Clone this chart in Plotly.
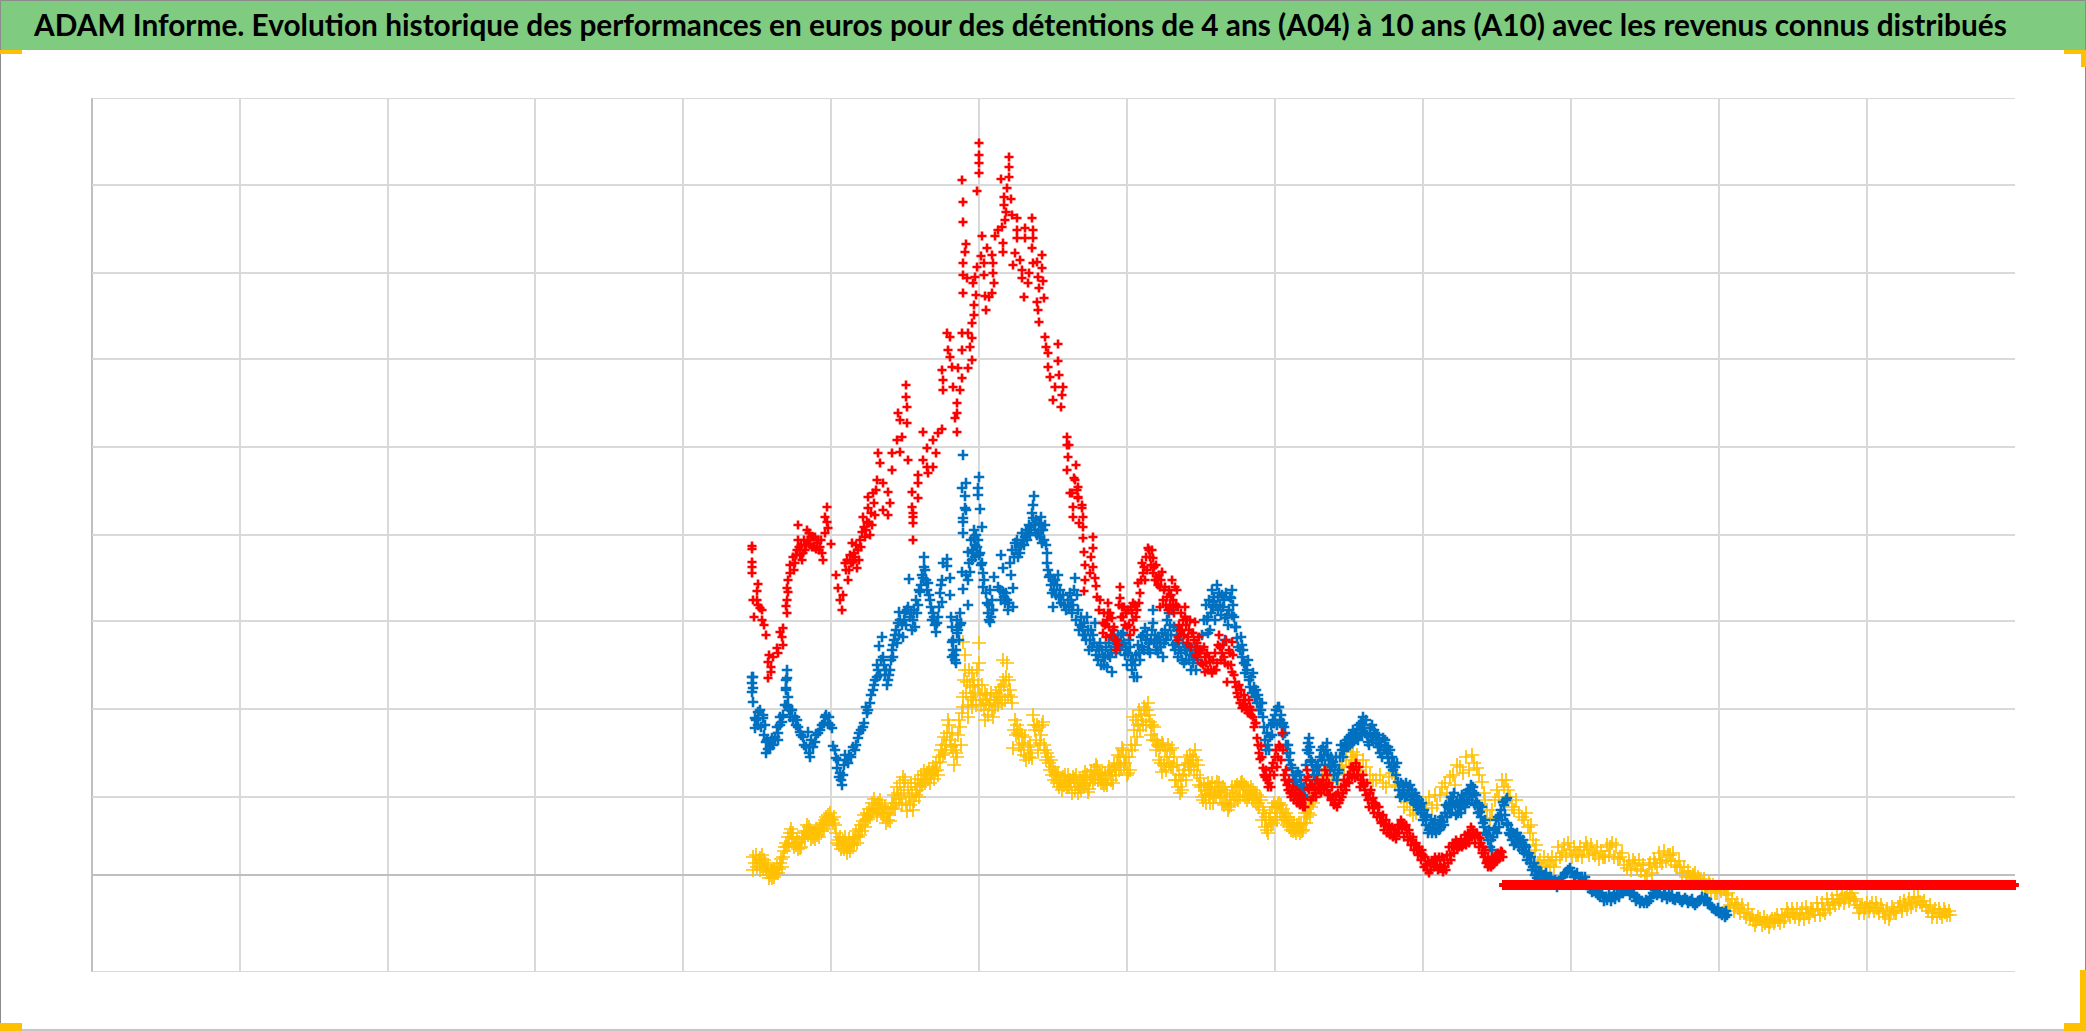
import plotly.graph_objects as go

title_text = "ADAM Informe. Evolution historique des performances en euros pour des détentions de 4 ans (A04) à 10 ans (A10) avec les revenus connus distribués"

x_grid = [92, 240, 388, 535, 683, 831, 979, 1127, 1275, 1423, 1571, 1719, 1867]
y_grid = [-97, 78, 166, 254, 340, 428, 516, 602, 690, 777]
x_range = [92, 2015]
y_range = [-97, 777]

red_peak = [(752,329),(752,326),(752,313),(752,308),(752,302),(758,291),(757,284),(753,275),(757,275),(758,270),(760,267),(762,265),(754,258),(762,255),(764,250),(766,240),
(783,247),(780,243),(782,238),(783,230),(777,227),(778,222),(773,218),(769,220),(768,213),(771,208),(771,203),(768,197),
(787,262),(786,269),(787,275),(788,283),(787,287),(788,295),(790,302),(790,310),(793,318),(797,325),(798,335),(798,350),(807,345),(805,325),(802,315),(812,328),(817,332),(813,338),(820,328),(823,315),(825,342),(828,347),(827,353),(831,331),
(842,265),(840,275),(843,280),(836,300),(838,287),(845,312),(848,295),(853,313),(857,307),(852,332),(858,325),(860,335),(862,343),(867,353),(869,352),
(827,368),(825,358),(863,358),(868,378),(868,367),(873,382),(877,395),(878,422),(880,412),(883,392),(888,383),(892,405),(892,422),(900,423),(890,372),(883,365),(888,360),
(897,435),(898,462),(900,455),(906,490),(906,478),(907,468),(907,452),(902,438),(908,415),
(912,368),(912,383),(918,392),(918,377),(918,400),(923,415),(927,408),(928,402),(923,443),(927,427),(933,408),(936,422),(933,435),(942,446),(938,442),(913,358),(913,362),(913,352),(913,335),
(957,443),(955,457),(957,462),(957,472),(953,488),(960,485),(943,485),(942,505),(943,495),(962,497),(958,507),(952,508),(950,518),(948,525),(947,542),(950,538),(962,525),(962,542),(968,542),(972,537),(970,528),(972,515),(968,507),(972,552),(974,560),(974,570),(976,580),(963,582),(973,592),(975,598),(967,597),(963,600),(977,608),(963,612),(965,623),(966,631),(963,653),(963,673),(962,695),(977,684),(979,702),(979,712),(979,720),(979,732),(982,639),(981,619),(986,565),(985,579),(984,600),(984,612),(987,627),(992,620),(993,612),(993,602),(994,592),(992,582),(989,578),
(995,639),(998,645),(1002,648),(1005,655),(1003,632),(1003,623),(1004,670),(1004,678),(1001,696),(1007,687),(1009,698),(1009,708),(1009,718),(1011,676),(1006,663),(1012,660),(1017,657),(1017,645),(1017,637),(1015,622),(1013,610),(1020,615),(1022,605),(1022,597),(1025,647),(1025,637),(1024,578),(1028,592),(1029,602),(1032,657),(1033,645),(1033,637),(1032,627),(1033,612),(1037,613),(1042,620),(1042,607),(1038,598),(1043,594),(1039,587),(1037,573),(1044,577),(1038,565),(1039,553),(1045,538),(1046,528),(1048,522),(1058,531),(1058,514),(1048,508),(1050,498),(1059,500),(1055,488),(1063,488),(1053,475),(1062,480),(1061,468),(1067,438),(1067,430),(1069,430),(1068,418),(1067,405),(1076,410),(1074,397),(1072,382),(1078,388),(1078,377),(1082,367),(1073,368),(1073,358),(1083,358),
(808,335),(809,342),(810,330),(811,338),(814,328),(815,338),(816,326),(818,335),(819,325),(821,335),(822,322),(794,305),(795,312),(796,320),(799,328),(800,320),(801,330),(803,322),(804,335),(806,330),(846,305),(847,315),(849,305),(850,320),(851,312),(854,322),(855,318),(856,330),(859,315),(861,328),(864,348),(865,338),(866,345),(870,340),(871,362),(872,350),(874,372),(875,360),(876,385)]

red_mid = [(1075,395),(1077,385),(1070,382),(1078,378),(1082,370),(1079,352),(1083,348),(1083,337),(1093,338),(1093,327),(1084,323),(1091,318),(1085,310),(1093,308),(1090,302),(1085,295),(1095,297),(1096,289),(1084,284),(1120,288),(1097,278),(1100,275),(1099,265),(1108,272),(1108,262),(1103,252),(1112,257),(1113,245),(1103,242),(1115,235),(1116,225),(1120,277),(1122,268),(1123,258),(1127,248),(1130,240),(1128,265),(1133,272),(1137,265),(1133,255),(1140,282),(1138,292),(1143,302),(1142,312),(1148,327),(1150,318),(1153,317),(1147,305),(1153,302),(1157,295),(1162,303),(1160,288),(1164,285),(1160,268),(1167,278),(1172,295),(1175,288),(1173,275),(1178,268),(1168,265),(1185,268),(1185,258),(1190,255),(1180,245),(1178,235),(1192,242),(1187,232),(1197,232),(1197,218),
(1177,285),(1173,270),(1187,255),(1195,253),(1193,242),(1178,238),(1197,228),(1205,218),(1205,203),(1210,213),(1212,202),(1217,212),(1218,230),(1222,222),(1232,233),(1230,222),(1225,212),(1232,203),(1227,193),(1235,193),(1237,182),(1245,175),(1242,167),(1250,168),(1248,162),(1255,152),
(1104,262),(1105,250),(1106,238),(1107,255),(1109,248),(1110,262),(1111,240),(1114,248),(1117,235),(1118,230),(1119,270),(1121,258),(1124,268),(1125,250),(1126,262),(1129,250),(1131,268),(1132,262),(1134,245),(1135,270),(1136,258),(1139,272),(1141,295),(1144,308),(1145,295),(1146,318),(1149,325),(1151,310),(1152,325),(1154,308),(1155,295),(1156,310),(1158,290),(1159,300),(1161,295),(1163,275),(1165,288),(1166,270),(1169,285),(1170,270),(1171,280),(1174,262),(1176,270),(1179,250),(1181,262),(1182,245),(1183,255),(1184,240),(1186,250),(1188,238),(1189,245),(1191,228),(1194,235),(1196,220),(1198,225),(1199,238),(1200,222),(1201,212),(1202,225),(1203,210),(1204,228),(1206,212),(1207,222),(1208,205),(1209,218),(1211,205),(1213,215),(1214,205),(1215,222),(1216,205),(1219,240),(1220,228),(1221,215),(1223,230),(1224,218),(1226,235),(1228,210),(1229,225),(1231,210),(1233,220),(1234,200),(1236,188),(1238,178),(1239,190),(1240,172),(1241,185),(1243,170),(1244,180),(1246,165),(1249,175),(1251,160),(1253,158),(1254,148)]

red_low = [(1247,168),(1252,165),(1256,152),(1257,137),(1261,129),(1260,116),(1263,107),(1265,98),(1269,92),(1272,107),(1275,118),(1280,128),(1282,142),(1283,125),(1284,100),(1287,90),(1290,82),(1298,78),(1305,68),(1308,98),(1308,87),(1313,78),(1318,87),(1327,100),(1327,85),(1333,78),(1337,68),(1343,82),(1347,93),(1353,107),(1355,97),(1362,92),(1365,85),(1368,75),(1373,77),(1373,67),(1378,62),(1382,53),(1388,48),(1397,42),(1403,52),(1407,42),(1412,35),(1417,25),(1423,20),(1429,2),(1430,12),(1437,15),(1443,3),(1442,18),(1448,12),(1452,28),(1460,32),(1467,35),(1473,45),(1478,38),(1462,28),(1480,37),(1483,28),(1488,17),(1488,8),(1495,13),(1500,20),(1502,23),
(1267,95),(1292,85),(1295,80),(1300,75),(1302,72),(1310,90),(1315,82),(1322,90),(1330,80),(1335,72),(1340,75),(1345,90),(1350,100),(1358,100),(1360,88),(1370,82),(1376,70),(1380,58),(1385,50),(1391,45),(1394,40),(1400,50),(1405,48),(1410,38),(1415,30),(1420,22),(1426,10),(1433,13),(1440,10),(1445,8),(1450,20),(1455,30),(1464,33),(1470,40),(1476,42),(1485,22),(1490,10),(1492,12),(1497,17),
(1258,130),(1259,122),(1262,118),(1264,100),(1266,105),(1268,88),(1270,100),(1271,88),(1273,112),(1274,100),(1276,125),(1277,108),(1278,118),(1279,130),(1281,115),(1285,95),(1286,105),(1288,85),(1289,95),(1291,78),(1293,88),(1294,75),(1296,85),(1297,72),(1299,82),(1300,70),(1301,80),(1303,68),(1304,76),(1306,95),(1307,105),(1309,85),(1311,75),(1312,90),(1314,88),(1316,78),(1317,95),(1319,85),(1320,92),(1321,82),(1323,95),(1324,85),(1325,105),(1326,90),(1328,80),(1329,92),(1331,75),(1332,88),(1334,70),(1336,80),(1338,82),(1339,72),(1341,88),(1342,78),(1344,95),(1346,85),(1348,100),(1349,92),(1351,108),(1352,98),(1354,105),(1356,112),(1357,100),(1359,108),(1361,95),(1363,100),(1364,90),(1366,80),(1367,92),(1369,68),(1371,85),(1372,72),(1374,62),(1375,72),(1377,58),(1379,68),(1381,52),(1383,60),(1384,45),(1386,55),(1387,42),(1389,50),(1390,40),(1392,48),(1393,38),(1395,46),(1396,36),(1398,50),(1399,42),(1401,55),(1402,46),(1404,38),(1406,50),(1408,35),(1409,45),(1411,30),(1413,38),(1414,25),(1416,32),(1418,20),(1419,28),(1421,15),(1422,25),(1424,8),(1425,18),(1427,5),(1428,14),(1431,5),(1432,14),(1434,8),(1435,18),(1436,10),(1438,5),(1439,18),(1441,8),(1444,15),(1446,5),(1447,20),(1449,28),(1451,15),(1453,32),(1454,22),(1456,35),(1457,26),(1458,32),(1459,28),(1461,36),(1463,30),(1465,40),(1466,30),(1468,42),(1469,32),(1471,48),(1472,38),(1474,40),(1475,32),(1477,42),(1479,28),(1481,32),(1482,22),(1484,18),(1485,25),(1486,12),(1487,14),(1489,10),(1490,15),(1491,8),(1492,18),(1493,10),(1494,15),(1496,20),(1497,14),(1498,22),(1499,16),(1501,24),(1503,18)]

blue_early = [(752,198),(752,192),(752,183),(753,173),(787,205),(787,197),(786,187),(788,178),(787,170),(780,158),(792,165),(795,158),(758,163),(763,160),
(753,198),(753,187),(755,157),(755,147),(760,165),(763,157),(765,150),(767,135),(766,122),(770,127),(772,137),(778,142),(778,135),(782,153),(786,195),(786,185),(788,168),(790,158),(797,155),(800,143),(803,138),(808,143),(810,118),(810,128),(815,133),(820,145),(825,158),(828,152),(832,147),(833,129),(836,117),(837,107),(842,90),(840,102),(845,120),(848,112),(855,125),(858,137),(863,148),(867,162),(870,172),(873,185),(877,198),(877,210),(879,229),(882,238),(883,218),(888,195),(890,205),(893,230),(893,218),(895,240),(898,252),(903,238),(899,263),(908,268),(910,258),(915,248),(917,262),(920,283),(923,297),(924,318),(924,308),(909,296),(928,292),(930,275),(933,262),(936,243),(937,252),(942,273),(942,295),(943,312),(947,316),(947,309),(950,297),(950,280),(963,286),(962,303),(968,270),(951,258),(952,248),(952,233),(953,225),(956,212),(957,242),(960,262),(961,252),
(756,155),(758,150),(761,148),(764,140),(766,133),(768,126),(771,132),(773,130),(775,138),(777,148),(780,150),(783,160),(785,170),(789,165),(791,165),(793,155),(796,150),(798,148),(801,140),(804,130),(806,128),(809,122),(811,135),(813,128),(816,140),(818,142),(822,150),(824,152),(826,160),(829,158),(830,150),(835,125),(838,115),(839,98),(841,95),(843,100),(844,110),(846,115),(849,120),(851,118),(853,128),(856,130),(859,142),(861,145),(864,152),(866,168),(868,165),(871,180),(874,190),(875,195),
(878,205),(880,200),(881,215),(884,210),(885,200),(886,205),(887,190),(889,200),(891,215),(892,225),(894,235),(896,245),(897,232),(899,240),(900,255),(902,250),(904,255),(905,262),(906,250),(907,265),(911,262),(912,245),(913,255),(914,265),(916,275),(918,270),(919,285),(921,290),(922,300),(925,305),(926,295),(927,285),(929,280),(931,268),(932,255),(934,258),(935,250),(938,258),(939,268),(940,282),(941,290),
(952,218),(953,235),(954,220),(955,215),(956,225),(957,255),(958,245),(959,235),(960,250)]

blue_mid = [(963,342),(963,353),(966,365),(980,366),(982,348),(968,323),(974,337),(973,322),(977,328),(970,303),(968,295),(982,312),(983,302),(983,288),(990,285),(987,272),(992,265),(990,253),(994,298),(1001,320),(1003,307),(998,288),(1003,283),(1007,275),(1013,268),(1013,287),(1010,312),(1015,332),(1018,318),(1023,335),(1028,342),(1033,357),(1033,370),(1039,352),(1040,338),(1045,350),(1047,322),(1048,305),(1053,295),(1058,300),(1060,285),(1053,268),(1068,275),(1075,297),(1077,280),(1080,250),(1087,258),(1090,235),(1095,252),(1100,232),(1103,218),(1112,203),(1107,208),(1115,228),(1123,242),(1130,228),(1137,198),(1140,215),(1145,247),(1153,265),(1153,252),(1160,232),(1162,242),(1172,265),(1177,245),(1187,225),(1193,212),(1208,242),(1213,268),(1218,278),
(963,420),(966,392),(962,387),(965,379),(979,398),(978,387),(978,380),(965,367),(963,357),(1034,379),(1041,358),
(971,335),(972,325),(975,330),(976,340),(978,335),(979,320),(974,345),(975,318),(972,315),(969,312),(966,300),(980,322),(981,310),(984,295),(986,282),(988,262),(989,270),(991,258),(992,275),(993,265),(989,255),
(1000,285),(1001,275),(1004,278),(1005,272),(1006,282),(1008,265),(1009,272),(1011,300),(1012,325),(1014,318),(1016,325),(1017,335),(1019,328),(1020,322),(1021,330),(1022,342),(1024,330),(1025,338),(1026,345),(1027,335),(1029,350),(1030,340),(1031,348),(1032,362),(1034,350),(1035,345),(1036,355),(1037,340),(1038,342),(1041,345),(1042,332),(1043,345),(1044,335),(1046,330),(1047,312),(1049,298),(1050,300),(1051,290),(1052,282),(1054,285),(1055,295),(1056,280),(1057,290),(1059,278),(1061,272),(1063,280),(1064,270),(1066,265),(1069,268),(1070,282),(1071,275),(1072,262),(1073,270),(1074,285),(1076,255),(1078,265),(1079,245),(1081,258),(1082,248),(1083,240),(1084,252),(1085,240),(1086,235),(1088,245),(1089,225),(1091,245),(1092,228),(1093,240),(1094,232),(1096,220),(1097,228),(1098,215),(1099,225),(1101,210),(1102,225),(1104,210),(1105,218),(1106,228),(1108,220),(1109,232),(1110,218),(1111,225),(1113,235),(1114,240),(1116,222),(1117,232),(1118,240),(1119,232),(1120,225),(1121,240),(1122,230),(1124,232),(1125,220),(1126,228),(1127,210),(1128,222),(1129,235),(1131,215),(1132,205),(1133,215),(1134,198),(1135,210),(1136,220),(1138,230),(1139,222),(1141,238),(1142,228),(1143,240),(1144,225),(1146,235),(1147,240),(1148,225),(1149,232),(1150,222),(1151,235),(1152,245),(1154,232),(1155,240),(1156,225),(1157,232),(1158,222),(1159,238),(1161,228),(1163,218),(1164,232),(1165,245),(1166,235),(1167,255),(1168,240),(1169,262),(1170,250),(1171,240),(1173,230),(1174,248),(1175,225),(1176,232),(1178,218),(1179,228),(1180,240),(1181,222),(1182,215),(1183,232),(1184,212),(1185,225),(1186,215),(1188,230),(1189,215),(1190,225),(1191,205),(1192,220),(1194,218),(1195,228),(1196,205),(1198,215),(1200,225),(1202,240),(1204,255),(1206,270),(1207,255),(1209,275),(1211,262),(1212,285),(1214,278),(1215,255),(1216,270),(1217,290),(1219,282),(1220,270),(1221,260),(1223,268),(1224,275),(1226,282),(1227,260),(1228,250),(1229,265),(1230,278),(1233,270),(1234,258),(1236,248),(1238,228),(1240,225),(1241,238),(1243,225),(1244,212),(1246,210),(1247,205),(1249,195),(1251,198),(1252,182),(1254,188),(1255,178),(1256,185),(1257,172),(1259,165),
(1232,285),(1231,277),(1222,280),(1213,273),(1218,265),(1208,258),(1210,245),(1225,257),(1232,260),(1235,248),(1225,235),(1237,237),(1242,230),(1242,218),(1248,215),(1245,202),(1253,202),(1250,188),(1258,180),(1262,172),(1263,158),(1278,168),(1273,155),(1283,152)]

blue_low = [(1260,172),(1267,142),(1268,130),(1273,152),(1279,168),(1280,155),(1285,142),(1290,122),(1292,107),(1298,103),(1295,93),(1302,87),(1305,78),(1309,137),(1309,122),(1312,113),(1317,100),(1320,118),(1327,132),(1328,120),(1333,113),(1338,102),(1342,125),(1347,135),(1355,142),(1363,158),(1363,147),(1370,147),(1368,133),(1375,142),(1380,122),(1383,137),(1388,128),(1388,117),(1395,108),(1398,93),(1400,78),(1408,88),(1413,78),(1420,70),(1425,58),(1428,42),(1430,48),(1437,47),(1443,53),(1448,68),(1453,78),(1458,62),(1463,73),(1470,82),(1473,88),(1478,68),
(1463,70),(1477,72),(1480,63),(1483,52),(1487,40),(1490,28),(1495,47),(1500,60),(1503,73),(1507,77),(1507,52),(1510,40),(1518,35),(1525,30),(1528,20),(1533,8),(1538,0),(1547,-3),(1557,-12),(1563,-2),(1570,7),(1575,0),(1585,-2),(1592,-17),(1600,-20),(1607,-25),(1617,-20),(1628,-15),(1637,-22),(1647,-28),(1655,-15),(1665,-20),(1677,-22),(1687,-25),(1697,-28),(1650,-23),(1658,-18),(1670,-22),(1683,-25),(1693,-28),(1705,-23),(1712,-33),(1722,-40),(1727,-40),
(1542,-2),(1552,-6),(1560,-8),(1567,3),(1580,-3),(1588,-10),(1596,-18),(1603,-22),(1612,-22),(1622,-18),(1632,-18),(1642,-26),(1651,-22),(1660,-18),(1673,-24),(1680,-25),(1690,-26),(1700,-25),(1708,-28),(1716,-36),(1719,-38),(1725,-42),(1604,-26),(1640,-28),(1615,-24),
(1261,165),(1264,148),(1265,135),(1266,125),(1269,125),(1270,138),(1271,150),(1272,140),(1274,152),(1275,160),(1276,165),(1277,150),(1281,160),(1282,150),(1283,140),(1284,148),(1286,130),(1287,122),(1288,130),(1289,115),(1291,110),(1293,100),(1294,95),(1296,100),(1297,90),(1299,85),(1300,100),(1301,95),(1303,80),(1304,88),(1306,110),(1307,125),(1308,132),(1310,128),(1311,115),(1313,105),(1314,100),(1315,95),(1316,108),(1318,110),(1319,105),(1321,125),(1322,115),(1323,128),(1324,120),(1325,110),(1326,125),(1329,115),(1330,105),(1331,118),(1332,108),(1334,100),(1335,110),(1336,118),(1337,95),(1339,105),(1340,118),(1341,130),(1343,118),(1344,125),(1345,132),(1346,128),(1348,128),(1349,138),(1350,130),(1351,140),(1352,132),(1353,145),(1354,135),(1356,138),(1357,145),(1358,135),(1359,150),(1360,140),(1361,152),(1362,140),(1364,150),(1365,142),(1366,155),(1367,140),(1369,130),(1371,138),(1372,150),(1373,135),(1374,145),(1376,132),(1377,140),(1378,128),(1379,135),(1381,130),(1382,118),(1384,125),(1385,135),(1386,128),(1387,122),(1389,112),(1390,125),(1391,108),(1392,118),(1393,105),(1394,112),(1396,100),(1397,112),(1399,85),(1401,92),(1402,80),(1403,90),(1404,85),(1405,78),(1406,92),(1407,80),(1409,82),(1410,90),(1411,75),(1412,85),(1414,72),(1415,82),(1416,70),(1417,78),(1418,65),(1419,75),(1421,62),(1422,72),(1423,55),(1424,65),(1426,50),(1427,60),(1429,45),(1431,55),(1432,42),(1433,52),(1434,45),(1435,55),(1436,42),(1438,50),(1439,45),(1440,55),(1441,48),(1442,58),(1444,50),(1445,62),(1446,70),(1447,58),(1449,72),(1450,62),(1451,78),(1452,68),(1454,82),(1455,70),(1456,60),(1457,72),(1459,68),(1460,75),(1461,62),(1462,80),(1464,78),(1465,68),(1466,82),(1467,72),(1468,85),(1469,75),(1471,90),(1472,78),(1474,82),(1475,70),(1476,80),(1478,62),(1479,70),(1481,58),(1482,68),(1484,48),(1485,55),(1486,42),(1488,35),(1489,45),(1491,35),(1492,25),(1493,38),(1494,45),(1496,55),(1497,42),(1498,58),(1499,48),(1501,65),(1502,55),(1504,70),(1505,60),(1506,75),(1508,50),(1509,42),(1511,45),(1512,35),(1513,42),(1514,30),(1515,40),(1516,32),(1517,42),(1519,28),(1520,38),(1521,32),(1522,25),(1523,35),(1524,22),(1526,28),(1527,15),(1529,22),(1530,12),(1531,18),(1532,5),(1534,12),(1535,0),(1536,8),(1537,-3),(1539,3),(1540,-2),(1541,3),(1543,-5),(1544,0),(1545,-5),(1546,2),
(1549,-4),(1551,-2),(1553,-8),(1555,-5),(1559,-6),(1561,-3),(1565,2),(1568,5),(1572,3),(1574,-2),(1577,2),(1579,-3),(1582,-2),(1584,-8),(1586,-6),(1590,-14),(1594,-15),(1598,-20),(1602,-18),(1606,-22),(1609,-20),(1611,-26),(1614,-18),(1619,-22),(1621,-15),(1624,-16),(1626,-14),(1630,-20),(1634,-20),(1636,-26),(1639,-24),(1644,-28),(1646,-25),(1649,-26),(1653,-18),(1657,-20),(1662,-22),(1664,-18),(1667,-24),(1669,-20),(1672,-20),(1675,-25),(1679,-22),(1682,-27),(1685,-23),(1688,-28),(1692,-24),(1695,-30),(1699,-26),(1702,-22),(1704,-26),(1707,-24),(1710,-30),(1714,-34),(1718,-33),(1721,-38),(1724,-38),(1726,-36)]

yellow_early = [(753,18),(753,5),(760,17),(765,12),(770,0),(778,2),(783,18),(790,42),(795,32),(800,27),(807,50),(813,38),(820,47),(828,60),(835,50),(837,32),(845,38),(847,22),(857,32),(865,48),(875,67),(880,75),(888,55),(893,68),(898,82),(903,98),(912,82),(913,65),(920,88),(927,102),(937,105),(940,113),(942,130),(948,155),(950,135),(957,118),(960,148),(962,162),(968,158),(963,233),(965,220),(965,205),(967,193),(963,178),(972,202),(973,188),(973,175),(979,232),(979,212),(985,182),(985,155),(992,165),(990,175),(997,178),(1003,195),(1003,215),(1007,212),(1010,185),(1012,172),
(760,5),(775,5),(785,28),(803,38),(810,45),(817,40),(825,55),(832,55),(842,30),(852,30),(860,40),(870,58),(884,62),(896,72),(908,88),(916,80),(923,95),(932,103),(945,122),(953,125),
(755,12),(756,20),(757,8),(759,15),(761,12),(762,20),(763,6),(764,15),(766,8),(767,3),(768,10),(769,-3),(771,4),(772,-3),(773,6),(774,-2),(776,2),(777,8),(779,6),(780,12),(781,16),(782,8),(784,24),(786,32),(787,28),(788,38),(789,30),(791,46),(792,38),(793,42),(794,28),(796,30),(797,36),(798,26),(799,33),(801,28),(802,38),(804,44),(805,36),(806,42),(808,40),(809,48),(811,36),(812,42),(814,42),(815,36),(816,46),(818,44),(819,38),(821,50),(822,44),(823,52),(824,46),(826,58),(827,50),(829,54),(830,62),(831,56),(833,52),(834,58),(836,42),(838,35),(839,30),(840,38),(841,26),(843,34),(844,26),(846,30),(848,28),(849,36),(850,24),(851,32),(853,36),(854,30),(855,38),(856,44),(858,38),(859,46),(861,50),(862,44),(863,54),(864,60),(866,55),(867,62),(868,56),(869,66),(871,62),(872,72),(873,64),(874,76),(876,70),(877,60),(878,72),(879,66),(881,62),(882,70),(883,58),(885,68),(886,52),(887,62),(889,60),(890,54),(891,66),(892,72),(894,80),(895,66),(897,88),(899,76),(900,92),(901,80),(902,70),(904,85),(905,95),(906,72),(907,64),(909,78),(910,70),(911,92),(914,74),(915,92),(917,85),(918,96),(919,78),(921,100),(922,90),(924,104),(925,92),(926,100),(928,96),(929,106),(930,92),(931,100),(933,108),(934,96),(935,104),(936,112),(938,100),(939,118),(941,125),(943,120),(944,138),(946,130),(947,142),(949,150),(951,128),(952,142),(954,110),(955,130),(956,122),(958,140),(959,155),(961,130),(963,168),
(964,195),(966,182),(968,170),(969,205),(970,190),(971,178),(972,168),(974,195),(975,182),(976,170),(977,205),(978,190),(980,180),(981,170),(982,190),(983,175),(984,165),(986,172),(987,180),(988,160),(989,170),(991,182),(993,158),(994,175),(995,168),(996,182),(998,170),(999,185),(1000,178),(1001,188),(1002,172),(1004,190),(1005,175),(1006,198),(1008,180),(1009,195),(1011,178)]

yellow_mid = [(1015,155),(1013,127),(1018,142),(1023,132),(1032,117),(1033,160),(1035,145),(1043,153),(1040,132),(1048,118),(1055,103),(1067,88),(1073,98),(1078,82),(1085,103),(1088,83),(1097,108),(1103,92),(1110,103),(1117,112),(1122,127),(1128,102),(1132,125),(1133,158),(1137,138),(1148,172),(1150,153),(1155,135),(1162,132),(1162,103),(1172,127),(1173,108),(1180,82),(1188,112),(1195,125),(1200,97),(1210,72),(1210,88),(1218,83),
(1045,125),(1060,92),(1070,95),(1082,92),(1092,98),(1100,100),(1107,90),(1115,105),(1125,112),(1142,155),(1145,165),(1158,130),(1167,118),(1176,95),(1184,105),(1192,115),(1205,80),(1214,80),
(1014,145),(1016,140),(1017,150),(1019,130),(1020,145),(1021,125),(1022,140),(1024,120),(1025,138),(1026,115),(1028,128),(1029,118),(1030,130),(1031,122),(1034,150),(1036,135),(1037,150),(1038,125),(1039,148),(1041,140),(1042,150),(1044,130),(1046,115),(1047,122),(1049,112),(1050,105),(1051,115),(1052,100),(1053,108),(1054,95),(1056,100),(1057,92),(1058,102),(1059,88),(1061,95),(1062,85),(1063,98),(1064,90),(1065,100),(1066,92),(1068,100),(1069,88),(1071,92),(1072,82),(1074,96),(1075,85),(1076,100),(1077,92),(1079,88),(1080,95),(1081,85),(1083,98),(1084,90),(1086,92),(1087,100),(1089,86),(1090,95),(1091,104),(1093,92),(1094,105),(1095,96),(1096,110),(1098,95),(1099,102),(1101,92),(1102,100),(1104,90),(1105,102),(1106,92),(1108,100),(1109,108),(1111,95),(1112,105),(1113,92),(1114,110),(1116,100),(1118,120),(1119,105),(1120,118),(1121,108),(1123,125),(1124,110),(1126,118),(1127,100),(1129,118),(1130,105),(1131,130),(1134,145),(1135,130),(1136,155),(1138,150),(1139,165),(1140,145),(1141,160),(1143,150),(1144,168),(1146,150),(1147,165),(1149,160),(1151,140),(1152,150),(1153,135),(1154,148),(1156,125),(1157,135),(1159,115),(1160,128),(1161,112),(1163,130),(1164,110),(1165,125),(1166,105),(1168,130),(1169,112),(1170,125),(1171,108),(1174,118),(1175,95),(1177,110),(1178,88),(1179,100),(1181,95),(1182,85),(1183,100),(1185,110),(1186,95),(1187,118),(1189,105),(1190,120),(1191,108),(1193,118),(1194,105),(1196,115),(1197,100),(1198,110),(1199,90),(1201,88),(1202,78),(1204,90),(1206,72),(1207,85),(1208,92),(1209,80),(1211,82),(1212,92),(1213,72),(1215,88),(1216,78),
(1219,92),(1220,78),(1221,85),(1222,72),(1223,88),(1224,70),(1225,85),(1226,72),(1227,80),(1229,68),(1230,78),(1231,70),(1232,88),(1234,75),(1235,88),(1236,78),(1237,90),(1238,75),(1239,88),(1240,78),(1241,92),(1243,80),(1244,90),(1245,78),(1246,88),(1247,75),(1248,85),(1249,78),(1251,88),(1252,76),(1253,85),(1254,75),(1255,82),(1256,72),(1257,80),(1258,72),(1259,68),(1261,75),(1262,55),(1264,62),(1265,48),(1266,58),(1268,42),(1269,55),(1270,62),(1271,50),(1272,68),(1273,52),(1274,72),(1275,58),(1276,68),(1277,55),(1279,72),(1280,62),(1281,70),(1282,58),(1283,66),(1284,55),(1286,62),(1287,50),(1288,58),(1289,48),(1290,55),(1291,45),(1292,52),(1293,44),(1294,52),(1296,42),(1297,50),(1298,45),(1299,52),(1300,42),(1301,50),(1302,44),(1304,52),(1305,62),(1306,52),(1308,62),(1309,70),(1310,60),(1311,68),(1312,78)]

yellow_low = [(1203,75),(1217,93),(1228,65),(1233,82),(1242,93),(1250,83),(1260,78),(1263,65),(1267,45),(1278,70),(1285,58),(1295,45),(1303,45),(1307,58),(1313,72),(1327,105),(1332,93),(1342,108),(1353,123),(1363,115),(1373,95),(1383,92),(1392,102),(1398,88),(1407,73),(1413,60),(1423,70),(1432,67),(1440,80),(1450,98),(1457,110),(1463,102),(1472,120),(1477,107),(1482,93),(1485,75),(1490,57),(1495,75),(1502,95),(1508,85),(1512,68),(1522,58),(1528,48),(1533,35),(1538,12),(1550,10),(1562,22),(1570,25),(1578,20),(1587,28),(1595,20),(1603,18),(1610,28),(1620,18),(1627,7),(1635,12),(1647,0),(1655,12),(1668,20),(1677,8),(1690,-2),(1698,-2),(1650,12),(1660,15),(1670,20),(1680,8),(1693,0),(1705,-12),(1717,-18),(1728,-18),(1728,-32),(1738,-33),(1750,-43),(1765,-48),(1778,-45),(1793,-38),(1807,-38),(1823,-35),(1833,-27),(1850,-22),(1860,-33),(1877,-33),(1890,-40),(1898,-32),(1920,-27),(1933,-38),(1950,-40),
(1744,-38),(1756,-46),(1760,-44),(1770,-47),(1785,-42),(1788,-38),(1800,-40),(1813,-36),(1818,-34),(1828,-30),(1840,-25),(1845,-23),(1855,-26),(1865,-33),(1870,-32),(1883,-36),(1894,-36),(1905,-30),(1912,-28),(1926,-32),(1940,-38),(1945,-37),(1735,-30),(1753,-45),(1775,-44),
(1316,80),(1319,90),(1322,100),(1325,98),(1328,95),(1330,108),(1335,100),(1338,95),(1340,110),(1344,100),(1346,115),(1349,108),(1351,118),(1355,115),(1357,120),(1360,105),(1366,108),(1370,100),(1376,95),(1380,100),(1386,88),(1389,98),(1395,90),(1401,78),(1404,68),(1410,65),(1416,62),(1419,68),(1426,72),(1429,78),(1435,80),(1437,70),(1442,88),(1445,92),(1447,82),(1453,100),(1455,90),(1460,108),(1466,118),(1469,105),(1474,112),(1479,100),(1484,82),(1487,65),(1492,65),(1497,85),(1499,78),(1504,88),(1506,95),(1510,78),(1514,65),(1516,75),(1519,62),(1524,55),(1526,62),(1530,42),(1531,50),(1535,25),(1536,30),
(1540,15),(1542,8),(1544,18),(1546,8),(1548,15),(1552,18),(1554,8),(1556,15),(1558,28),(1560,18),(1564,30),(1566,20),(1568,32),(1572,18),(1574,28),(1576,20),(1580,28),(1582,18),(1584,25),(1586,32),(1589,20),(1591,30),(1593,22),(1597,28),(1599,16),(1601,24),(1605,18),(1607,30),(1609,20),(1612,32),(1614,18),(1616,30),(1618,16),(1622,22),(1624,10),(1629,14),(1631,5),(1633,15),(1637,6),(1639,15),(1641,4),(1643,10),(1645,-1),(1649,10),(1652,2),(1654,16),(1657,8),(1659,22),(1662,12),(1664,24),(1666,14),(1671,14),(1673,22),(1675,10),(1679,14),(1682,2),(1684,8),(1686,-2),(1688,4),(1692,-4),(1695,2),(1697,-6),(1700,-5),(1702,-10),(1704,-4),(1707,-14),(1709,-8),(1711,-16),(1713,-10),(1715,-18),(1719,-12),(1721,-16),(1724,-14),(1726,-20),
(1730,-30),(1732,-24),(1734,-36),(1737,-28),(1740,-38),(1742,-30),(1746,-42),(1748,-34),(1752,-40),(1755,-50),(1758,-42),(1762,-50),(1764,-42),(1767,-46),(1769,-52),(1772,-44),(1774,-48),(1777,-40),(1780,-48),(1782,-40),(1784,-46),(1787,-34),(1790,-42),(1792,-34),(1795,-42),(1797,-34),(1799,-44),(1802,-34),(1804,-44),(1806,-32),(1809,-42),(1811,-34),(1815,-40),(1817,-28),(1820,-40),(1822,-28),(1825,-38),(1827,-24),(1830,-34),(1832,-24),(1835,-30),(1837,-20),(1839,-28),(1842,-20),(1844,-28),(1847,-18),(1849,-26),(1852,-18),(1854,-24),(1857,-30),(1859,-38),(1862,-30),(1864,-38),(1867,-28),(1869,-36),(1872,-28),(1874,-36),(1876,-28),(1879,-38),(1881,-30),(1885,-42),(1887,-34),(1889,-44),(1892,-32),(1896,-38),(1900,-28),(1902,-36),(1904,-26),(1907,-34),(1909,-24),(1911,-32),(1914,-22),(1916,-30),(1918,-22),(1922,-30),(1924,-26),(1928,-36),(1930,-30),(1932,-42),(1935,-34),(1937,-42),(1939,-34),(1942,-42),(1944,-34),(1947,-40),(1949,-36)]

red_flat_start, red_flat_end, red_flat_step, red_flat_value = 1504, 2015, 2, -10

W, H = 2086, 1031
ML, MR, MT, MB = 92, 71, 98, 59


def px(x):
    return (x - ML) / (W - ML - MR)


def py(y):
    return 1 - (y - MT) / (H - MT - MB)


def series(points, color, size, width):
    return go.Scatter(
        x=[p[0] for p in points], y=[p[1] for p in points], mode="markers", hoverinfo="skip", cliponaxis=False,
        marker=dict(symbol="cross-thin", size=size, line=dict(color=color, width=width)),
    )


flat_x = list(range(red_flat_start, red_flat_end + 1, red_flat_step))
red_flat = [(x, red_flat_value) for x in flat_x]

fig = go.Figure([
    series(yellow_early + yellow_mid + yellow_low, "#FFC000", 10, 1.7),
    series(blue_early + blue_mid + blue_low, "#0070C0", 7.5, 2.6),
    series(red_peak + red_mid + red_low, "#FF0000", 6.5, 2.6),
    series(red_flat, "#FF0000", 7, 4),
])

shapes = [
    dict(type="rect", xref="paper", yref="paper", x0=px(0), x1=px(W), y0=py(50), y1=py(0), fillcolor="#7FCB7F", line_width=0, layer="below"),
    dict(type="rect", xref="paper", yref="paper", x0=px(0.5), x1=px(W - 0.5), y0=py(H - 1), y1=py(0.5), line=dict(color="#8C8C8C", width=1), layer="below"),
    dict(type="line", xref="paper", yref="paper", x0=px(92), x1=px(92), y0=0, y1=1, line=dict(color="#BFBFBF", width=2), layer="below"),
    dict(type="line", xref="paper", yref="y", x0=0, x1=1, y0=y_range[1], y1=y_range[1], line=dict(color="#D9D9D9", width=2), layer="below"),
    dict(type="line", xref="paper", yref="y", x0=0, x1=1, y0=y_range[0], y1=y_range[0], line=dict(color="#D9D9D9", width=2), layer="below"),
]
for x0, y0, x1, y1 in [(0, 50, 22, 54), (2064, 50, 2086, 54), (2081, 50, 2086, 67),
                       (0, 1023, 22, 1031), (2064, 1023, 2086, 1031), (2080, 970, 2086, 1031)]:
    shapes.append(dict(type="rect", xref="paper", yref="paper", x0=px(x0), x1=px(x1), y0=py(y1), y1=py(y0),
                       fillcolor="#FFC000", line_width=0))

fig.update_layout(
    width=W, height=H, margin=dict(l=ML, r=MR, t=MT, b=MB),
    paper_bgcolor="white", plot_bgcolor="rgba(0,0,0,0)", showlegend=False, shapes=shapes,
    xaxis=dict(range=x_range, tickvals=x_grid, showticklabels=False, ticks="", showgrid=True,
               gridcolor="#D9D9D9", gridwidth=2, zeroline=False, showline=False),
    yaxis=dict(range=y_range, tickvals=y_grid, showticklabels=False, ticks="", showgrid=True,
               gridcolor="#D9D9D9", gridwidth=2, zeroline=True, zerolinecolor="#BFBFBF", zerolinewidth=2, showline=False),
    annotations=[dict(text="<b>" + title_text + "</b>", xref="paper", yref="paper", x=px(31), y=py(25),
                      xanchor="left", yanchor="middle", showarrow=False,
                      font=dict(family="Lato", size=29.8, color="black"))],
)

fig.write_html("out.html", config=dict(displayModeBar=False),
               post_script="document.body.style.margin='0';document.documentElement.style.overflow='hidden';")
